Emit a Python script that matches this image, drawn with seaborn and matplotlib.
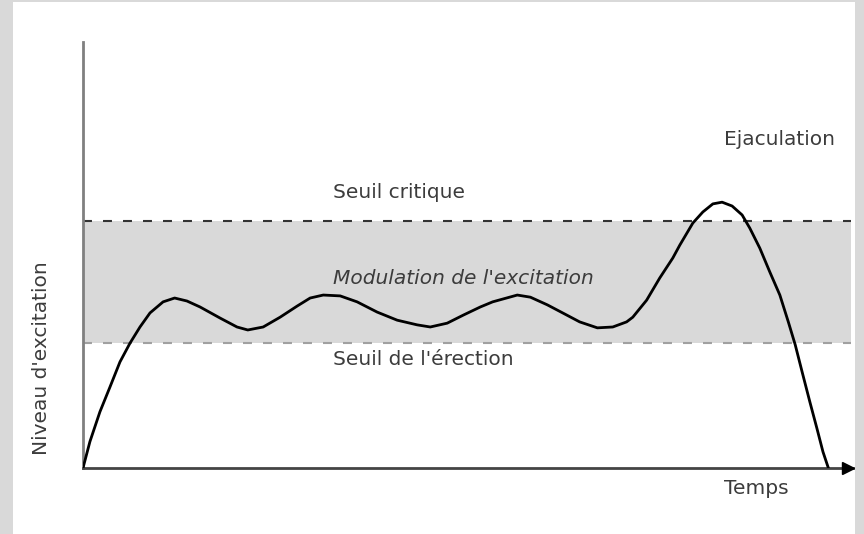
import numpy as np
import pandas as pd
import matplotlib
matplotlib.use("Agg")
import matplotlib.pyplot as plt
from matplotlib.patches import Rectangle
import seaborn as sns

# Curve (time 0-100, excitation level 0-100)
temps = [0.0, 0.9, 2.2, 3.5, 4.8, 6.1, 7.4, 8.7, 10.4, 11.9, 13.5, 15.2, 17.8,
         20.0, 21.4, 23.4, 25.6, 27.8, 29.5, 31.2, 33.4, 35.6, 38.2, 40.8, 43.4,
         45.1, 47.3, 49.4, 51.6, 53.2, 56.4, 58.1, 60.3, 62.3, 64.5, 66.8, 68.8,
         70.6, 71.4, 73.2, 74.9, 76.6, 77.5, 79.2, 80.5, 81.8, 83.0, 84.3, 85.6,
         86.6, 87.9, 89.2, 90.5, 91.6, 92.5, 93.4, 94.4, 95.3, 96.1, 96.8]
niveau = [0.0, 6.2, 13.2, 19.0, 24.9, 29.3, 33.1, 36.4, 39.0, 39.9, 39.2, 37.8, 35.2,
          33.1, 32.4, 33.1, 35.4, 38.0, 39.9, 40.6, 40.4, 39.0, 36.6, 34.7, 33.6,
          33.1, 34.0, 35.9, 37.8, 39.0, 40.6, 40.1, 38.3, 36.4, 34.3, 32.9, 33.1,
          34.3, 35.4, 39.4, 44.6, 49.3, 52.3, 57.5, 60.1, 62.0, 62.4, 61.5, 59.4,
          56.3, 51.6, 46.0, 40.6, 34.3, 28.9, 22.5, 15.5, 9.4, 3.8, 0.0]

seuil_erection = 29.3
seuil_critique = 58.0

labels = {
    "critique": "Seuil critique",
    "modulation": "Modulation de l'excitation",
    "erection": "Seuil de l'érection",
    "ejaculation": "Ejaculation",
    "x": "Temps",
    "y": "Niveau d'excitation",
}

df = pd.DataFrame({"Temps": temps, "Niveau": niveau})

sns.set_style("white")
plt.rcParams["font.family"] = ["DejaVu Sans"]

W, H = 864, 534
fig = plt.figure(figsize=(W / 100, H / 100), dpi=100, facecolor="#d9d9d9")
# white sheet on a grey backdrop
fig.patches.append(Rectangle((13 / W, 0), (855 - 13) / W, (532) / H,
                             transform=fig.transFigure, facecolor="white",
                             edgecolor="none", zorder=-5))

ax = fig.add_axes([83 / W, (H - 468) / H, (853 - 83) / W, (468 - 42) / H])
ax.set_zorder(5)
ax.set_facecolor("none")
ax.set_xlim(0, 100)
ax.set_ylim(0, 100)

# modulation band
ax.axhspan(seuil_erection, seuil_critique, xmin=0, xmax=0.997,
           color="#d9d9d9", lw=0, zorder=1)
ax.hlines(seuil_critique, 0, 99.7, colors="#333333", lw=1.5,
          linestyles=(0, (4.3, 5.3)), zorder=2)
ax.hlines(seuil_erection, 0, 99.7, colors="#a0a0a0", lw=1.5,
          linestyles=(0, (4.3, 5.3)), zorder=2)

sns.lineplot(data=df, x="Temps", y="Niveau", ax=ax, color="black",
             lw=2.0, sort=False, zorder=3)

# axes
for s in ["top", "right"]:
    ax.spines[s].set_visible(False)
ax.spines["left"].set_color("#808080")
ax.spines["left"].set_linewidth(2)
ax.spines["bottom"].set_color("#444444")
ax.spines["bottom"].set_linewidth(2)
ax.plot([99.3], [0], marker=">", color="black", ms=9, clip_on=False, zorder=4)
ax.set_xticks([])
ax.set_yticks([])
ax.set_xlabel("")
ax.set_ylabel("")

tc = "#3c3c3c"
fs = 14.5
ax.text(32.5, 64.6, labels["critique"], color=tc, fontsize=fs, va="center")
ax.text(32.5, 44.6, labels["modulation"], color=tc, fontsize=fs,
        style="italic", va="center")
ax.text(32.5, 25.4, labels["erection"], color=tc, fontsize=fs, va="center")
ax.text(83.2, 77.0, labels["ejaculation"], color=tc, fontsize=fs, va="center")
ax.text(83.2, -4.7, labels["x"], color=tc, fontsize=fs, va="center")
fig.text(42 / W, (H - 358) / H, labels["y"], color=tc, fontsize=fs,
         rotation=90, ha="center", va="center")

fig.savefig("out.png", dpi=100, facecolor=fig.get_facecolor())
